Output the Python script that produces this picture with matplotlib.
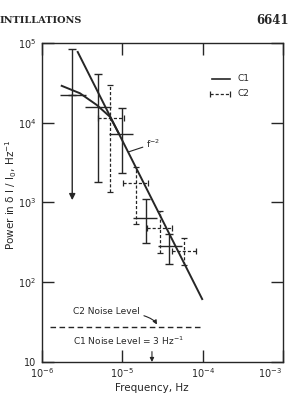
import matplotlib
matplotlib.use("Agg")
import matplotlib.pyplot as plt
import matplotlib.transforms as mtransforms
from matplotlib.ticker import FixedLocator, FixedFormatter, NullLocator

plt.rcParams["font.family"] = ["DejaVu Sans"]
plt.rcParams["mathtext.default"] = "regular"

INK = "#262626"

# f^-2 fit line (C1)
fit_f = [2.75e-6, 1e-4]
fit_p = [7.9e4, 60]

# low-frequency curved spectrum that merges into the fit
curve_f = [1.76e-6, 2.97e-6, 4.8e-6, 7.0e-6, 9.0e-6]
curve_p = [2.9e4, 2.34e4, 1.67e4, 1.19e4, 7.4e3]

# C1 estimates: centre f, f range, power, power range
c1_f = [2.38e-6, 4.94e-6, 1.0e-5, 1.97e-5, 3.82e-5]
c1_flo = [1.67e-6, 3.43e-6, 6.8e-6, 1.36e-5, 2.79e-5]
c1_fhi = [3.53e-6, 7.22e-6, 1.36e-5, 2.70e-5, 5.54e-5]
c1_p = [2.23e4, 1.57e4, 7.23e3, 644, 285]
c1_plo = [1.07e3, 1.82e3, 2.32e3, 308, 169]
c1_phi = [8.4e4, 4.08e4, 1.53e4, 1.10e3, 403]

# C2 estimates
c2_f = [7.1e-6, 1.48e-5, 2.95e-5, 5.86e-5]
c2_flo = [4.98e-6, 1.02e-5, 2.03e-5, 4.16e-5]
c2_fhi = [1.05e-5, 2.09e-5, 4.16e-5, 8.28e-5]
c2_p = [1.15e4, 1.74e3, 474, 249]
c2_plo = [1.36e3, 537, 231, 164]
c2_phi = [2.97e4, 2.79e3, 782, 356]

c2_noise_f = [1.26e-6, 1e-4]
c2_noise_p = 27.7
c1_noise_arrow_f = 2.34e-5

xticks = [1e-6, 1e-5, 1e-4, 1e-3]
xlabels = ["10$^{-6}$", "10$^{-5}$", "10$^{-4}$", "10$^{-3}$"]
yticks = [10, 1e2, 1e3, 1e4, 1e5]
ylabels = ["10", "10$^{2}$", "10$^{3}$", "10$^{4}$", "10$^{5}$"]

fig = plt.figure(figsize=(2.89, 3.94), dpi=100)
ax = fig.add_axes([0.1453, 0.0812, 0.8337, 0.8098])
ax.set_xscale("log")
ax.set_yscale("log")
ax.set_xlim(1e-6, 1e-3)
ax.set_ylim(10, 1e5)

# fit and curve
ax.plot(fit_f, fit_p, color=INK, lw=1.4, solid_capstyle="butt")
ax.plot(curve_f, curve_p, color=INK, lw=1.4)

# C1 error bars (solid, vertical capped, horizontal plain)
for i in range(len(c1_f)):
    lo = c1_p[i] - c1_plo[i]
    hi = c1_phi[i] - c1_p[i]
    if i == 0:
        ax.errorbar(c1_f[i], c1_p[i], yerr=[[0], [hi]], fmt="none",
                    ecolor=INK, elinewidth=1.0, capsize=3, capthick=1.0)
        ax.annotate("", xy=(c1_f[i], c1_plo[i]), xytext=(c1_f[i], c1_p[i]),
                    arrowprops=dict(arrowstyle="-|>", color=INK, lw=1.0,
                                    mutation_scale=9, shrinkA=0, shrinkB=0))
    else:
        ax.errorbar(c1_f[i], c1_p[i], yerr=[[lo], [hi]], fmt="none",
                    ecolor=INK, elinewidth=1.0, capsize=3, capthick=1.0)
    ax.errorbar(c1_f[i], c1_p[i],
                xerr=[[c1_f[i] - c1_flo[i]], [c1_fhi[i] - c1_f[i]]],
                fmt="none", ecolor=INK, elinewidth=1.0, capsize=0)

# C2 error bars (dashed, capped both ways)
for i in range(len(c2_f)):
    eb = ax.errorbar(c2_f[i], c2_p[i],
                     xerr=[[c2_f[i] - c2_flo[i]], [c2_fhi[i] - c2_f[i]]],
                     yerr=[[c2_p[i] - c2_plo[i]], [c2_phi[i] - c2_p[i]]],
                     fmt="none", ecolor=INK, elinewidth=0.9, capsize=2.5,
                     capthick=0.9)
    for lc in eb[2]:
        lc.set_linestyle((0, (2.5, 1.6)))

# noise levels
ax.plot(c2_noise_f, [c2_noise_p, c2_noise_p], color=INK, lw=1.0,
        dashes=(4, 2.5))
ax.annotate("C2 Noise Level", xy=(2.7e-5, 29.5), xytext=(2.43e-6, 40),
            fontsize=6.5, color=INK, ha="left", va="baseline",
            arrowprops=dict(arrowstyle="-|>", color=INK, lw=0.8,
                            mutation_scale=6, shrinkA=1, shrinkB=0,
                            connectionstyle="angle3,angleA=0,angleB=-60"))
ax.text(2.43e-6, 16.3, "C1 Noise Level = 3 Hz$^{-1}$", fontsize=6.5,
        color=INK, ha="left", va="baseline")
ax.annotate("", xy=(c1_noise_arrow_f, 10), xytext=(c1_noise_arrow_f, 13.5),
            arrowprops=dict(arrowstyle="-|>", color=INK, lw=0.8,
                            mutation_scale=6, shrinkA=0, shrinkB=0))

# f^-2 label
ax.annotate("f$^{-2}$", xy=(1.19e-5, 4.3e3), xytext=(1.95e-5, 4.8e3),
            fontsize=6.5, color=INK, ha="left", va="baseline",
            arrowprops=dict(arrowstyle="-", color=INK, lw=0.8,
                            shrinkA=0, shrinkB=0))

# legend
tr = ax.transAxes
ax.plot([0.705, 0.780], [0.887, 0.887], color=INK, lw=1.2, transform=tr)
ax.text(0.81, 0.887, "C1", transform=tr, fontsize=6.5, color=INK,
        va="center", ha="left")
ax.plot([0.697, 0.780], [0.840, 0.840], color=INK, lw=0.9,
        dashes=(2.5, 1.6), transform=tr)
ax.plot([0.697, 0.780], [0.840, 0.840], ls="none", marker="|",
        ms=4, mew=0.9, color=INK, transform=tr)
ax.text(0.81, 0.840, "C2", transform=tr, fontsize=6.5, color=INK,
        va="center", ha="left")

# axes styling
ax.xaxis.set_major_locator(FixedLocator(xticks))
ax.xaxis.set_major_formatter(FixedFormatter(xlabels))
ax.yaxis.set_major_locator(FixedLocator(yticks))
ax.yaxis.set_major_formatter(FixedFormatter(ylabels))
ax.xaxis.set_minor_locator(NullLocator())
ax.yaxis.set_minor_locator(NullLocator())
ax.tick_params(which="major", direction="in", length=8.5, width=1.0,
               top=True, right=True, labelsize=7, colors=INK, pad=3)
ax.tick_params(axis="y", pad=4)
for s in ax.spines.values():
    s.set_linewidth(1.0)
    s.set_color(INK)

# pull the last x tick label in so it stays on the page
last = ax.get_xticklabels()[-1]
last.set_transform(last.get_transform() +
                   mtransforms.ScaledTranslation(-9 / 72, 0, fig.dpi_scale_trans))

ax.set_xlabel("Frequency, Hz", fontsize=7.5, color=INK)
ax.xaxis.set_label_coords(0.456, -0.065)
ax.set_ylabel("Power in $\\delta$ I / I$_0$, Hz$^{-1}$", fontsize=7.5,
              color=INK)
ax.yaxis.set_label_coords(-0.095, 0.523)

# page header
fig.text(0.0, 0.949, "INTILLATIONS", fontsize=7, family="DejaVu Serif",
         weight="bold", color=INK, ha="left", va="center")
fig.text(0.998, 0.949, "6641", fontsize=8.5, family="DejaVu Serif",
         weight="bold", color=INK, ha="right", va="center")

fig.savefig("out.png", dpi=100)
